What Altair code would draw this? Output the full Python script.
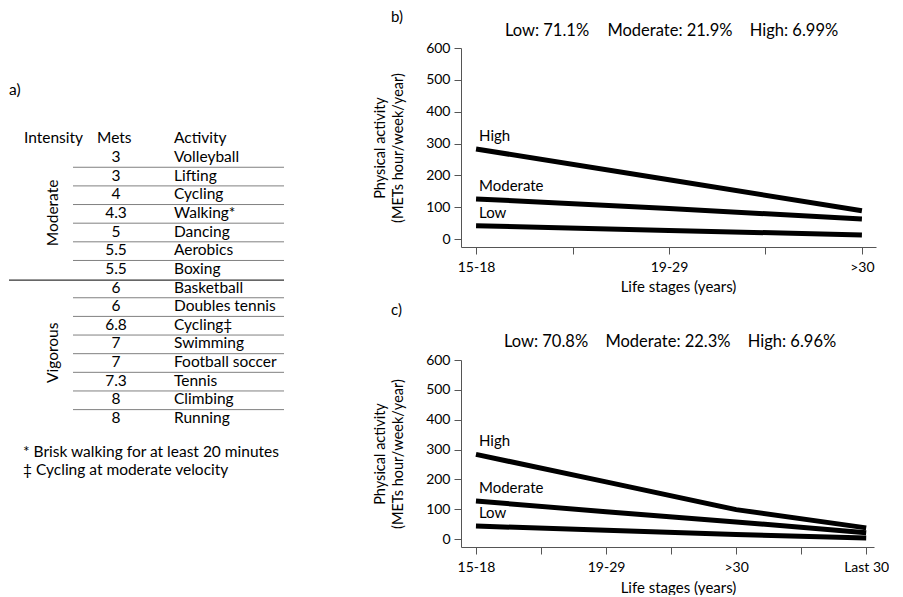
import altair as alt
import pandas as pd

FONT = "Lato"
TFS = 15.5  # table font size

# ---------------- table (panel a) ----------------
mod_mets = ["3", "3", "4", "4.3", "5", "5.5", "5.5"]
mod_act = ["Volleyball", "Lifting", "Cycling", "Walking*", "Dancing", "Aerobics", "Boxing"]
vig_mets = ["6", "6", "6.8", "7", "7", "7.3", "8", "8"]
vig_act = ["Basketball", "Doubles tennis", "Cycling\u2021", "Swimming",
           "Football soccer", "Tennis", "Climbing", "Running"]
header_labels = ["Intensity", "Mets", "Activity"]
footnotes = ["* Brisk walking for at least 20 minutes",
             "\u2021 Cycling at moderate velocity"]

# ---------------- panel b ----------------
b_stages = ["15-18", "19-29", ">30"]
b_high = [283, 186, 89]
b_moderate = [126, 96, 63]
b_low = [42, 27, 13]
b_stats = ["Low: 71.1%", "Moderate: 21.9%", "High: 6.99%"]

# ---------------- panel c ----------------
c_stages = ["15-18", "19-29", ">30", "Last 30"]
c_high = [284, 192, 99, 38]
c_moderate = [128, 92, 58, 22]
c_low = [44, 30, 16, 4]
c_stats = ["Low: 70.8%", "Moderate: 22.3%", "High: 6.96%"]

y_ticks = [0, 100, 200, 300, 400, 500, 600]

# ---------- build table ----------
rows = []
for i, (m, a) in enumerate(zip(mod_mets, mod_act)):
    rows.append({"row": i, "mets": m, "act": a, "group": "Moderate"})
for j, (m, a) in enumerate(zip(vig_mets, vig_act)):
    rows.append({"row": len(mod_mets) + j, "mets": m, "act": a, "group": "Vigorous"})
df_table = pd.DataFrame(rows)
n_rows = len(rows)

SHIFT = -40
yrow = alt.Scale(domain=[0, n_rows - 1], range=[149 + SHIFT, 410 + SHIFT])
tbase = alt.Chart(df_table)

mets_text = tbase.mark_text(align="center", baseline="middle", fontSize=TFS, font=FONT, color="black").encode(
    x=alt.value(107), y=alt.Y("row:Q", scale=yrow, axis=None), text="mets:N")
act_text = tbase.mark_text(align="left", baseline="middle", fontSize=TFS, font=FONT, color="black").encode(
    x=alt.value(165), y=alt.Y("row:Q", scale=yrow, axis=None), text="act:N")

sep_rows = [r for r in range(n_rows - 1) if r != len(mod_mets) - 1]
thin_rules = alt.Chart(pd.DataFrame({"row": sep_rows})).transform_calculate(
    ry="datum.row + 0.55").mark_rule(color="#808080", strokeWidth=1).encode(
    x=alt.value(64), x2=alt.value(275), y=alt.Y("ry:Q", scale=yrow, axis=None))
thick_rule = alt.Chart(pd.DataFrame({"row": [len(mod_mets) - 1]})).transform_calculate(
    ry="datum.row + 0.6").mark_rule(color="#333333", strokeWidth=1.3).encode(
    x=alt.value(0), x2=alt.value(275), y=alt.Y("ry:Q", scale=yrow, axis=None))

group_text = tbase.transform_aggregate(
    mrow="mean(row)", groupby=["group"]).mark_text(
    angle=270, align="center", baseline="middle", fontSize=TFS, font=FONT, color="black").encode(
    x=alt.value(44), y=alt.Y("mrow:Q", scale=yrow, axis=None), text="group:N")

hdr_df = pd.DataFrame({"label": header_labels, "row": [-1, -1, -1]})
hdr_layers = []
for lab, xpos in zip(header_labels, [15, 88, 165]):
    hdr_layers.append(
        alt.Chart(hdr_df).transform_filter(alt.datum.label == lab).mark_text(
            align="left", baseline="middle", fontSize=TFS, font=FONT, color="black").encode(
            x=alt.value(xpos), y=alt.Y("row:Q", scale=yrow, axis=None), text="label:N"))

foot_layers = []
for k, fn in enumerate(footnotes):
    foot_layers.append(
        alt.Chart(pd.DataFrame({"t": [fn]})).mark_text(
            align="left", baseline="middle", fontSize=TFS, font=FONT, color="black").encode(
            x=alt.value(14), y=alt.value(444 + SHIFT + 18 * k), text="t:N"))

tag_a = alt.Chart(pd.DataFrame({"t": ["a)"]})).mark_text(
    align="left", baseline="middle", fontSize=TFS, font=FONT, color="black").encode(
    x=alt.value(0), y=alt.value(82 + SHIFT), text="t:N")

table = alt.layer(thin_rules, thick_rule, mets_text, act_text, group_text,
                  *hdr_layers, *foot_layers, tag_a).properties(width=275, height=430)


# ---------- line panels ----------
def panel(tag, stages, high, moderate, low, stats, xdom, ymin, width, height,
          stat_x, stat_y, tag_y, title_x, title_y):
    recs = []
    for name, vals in [("High", high), ("Moderate", moderate), ("Low", low)]:
        for i, v in enumerate(vals):
            recs.append({"idx": i, "value": v, "series": name})
    df = pd.DataFrame(recs)
    labels_js = "[" + ",".join("'" + s + "'" for s in stages) + "]"
    tick_vals = [k / 2 for k in range(2 * (len(stages) - 1) + 1)]
    xenc = alt.X("idx:Q", scale=alt.Scale(domain=xdom, nice=False, zero=False),
                 axis=alt.Axis(values=tick_vals,
                               labelExpr="datum.value % 1 === 0 ? " + labels_js + "[datum.value] : ''",
                               title="Life stages (years)", titleX=title_x, titleY=title_y,
                               titleBaseline="middle", titleFontSize=15, tickSize=7, labelPadding=6,
                               labelFlush=False, labelOverlap=False))
    yenc = alt.Y("value:Q", scale=alt.Scale(domain=[ymin, 600], nice=False, zero=False),
                 axis=alt.Axis(values=y_ticks, title=["Physical activity", "(METs hour/week/year)"],
                               tickSize=7, labelPadding=4, titlePadding=20, titleFontSize=14.5,
                               titleLineHeight=18, labelOverlap=False, labelFlush=False))
    lines = alt.Chart(df).mark_line(color="black", strokeWidth=5, strokeCap="butt").encode(
        x=xenc, y=yenc, detail="series:N")
    lab = alt.Chart(df).transform_filter("datum.idx == 0").mark_text(
        align="left", baseline="middle", dx=3, dy=-13, fontSize=15, font=FONT, color="black").encode(
        x=xenc, y=yenc, text="series:N")
    layers = [lines, lab]
    for s, sx in zip(stats, stat_x):
        layers.append(alt.Chart(pd.DataFrame({"t": [s]})).mark_text(
            align="center", baseline="middle", fontSize=16.5, font=FONT, color="black").encode(
            x=alt.value(sx), y=alt.value(stat_y), text="t:N"))
    layers.append(alt.Chart(pd.DataFrame({"t": [tag]})).mark_text(
        align="left", baseline="middle", fontSize=15, font=FONT, color="black").encode(
        x=alt.value(-70), y=alt.value(tag_y), text="t:N"))
    return alt.layer(*layers).properties(width=width, height=height)


b = panel("b)", b_stages, b_high, b_moderate, b_low, b_stats,
          [-0.078, 2.073], -25, 415, 199, [86, 209, 333], -17, -31, 217, 39)
c = panel("c)", c_stages, c_high, c_moderate, c_low, c_stats,
          [-0.115, 3.06], -26, 413, 187, [85, 207, 331], -18, -50, 217, 40)

chart = alt.hconcat(table, alt.vconcat(b, c, spacing=9), spacing=87).properties(
    padding={"left": 0, "top": 2, "right": 0, "bottom": 0}
).configure_view(stroke=None).configure_axis(
    domainColor="#555555", tickColor="#555555", labelColor="black", titleColor="black",
    labelFont=FONT, titleFont=FONT, labelFontSize=14, titleFontSize=14,
    titleFontWeight="normal", grid=False
).configure_text(font=FONT)

chart.save("out.html", embed_options={"renderer": "svg", "actions": False})
